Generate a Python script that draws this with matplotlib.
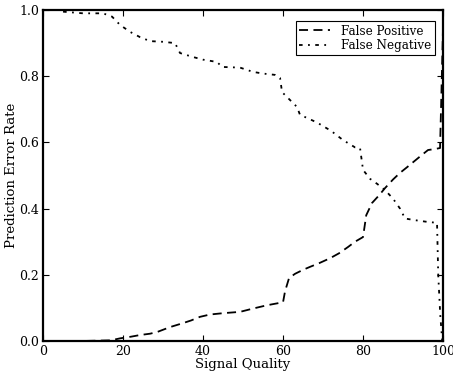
import matplotlib
matplotlib.use("Agg")
import matplotlib.pyplot as plt

# False Positive series (Signal Quality, error rate)
fp_x = [0, 10, 17, 19.25, 22, 24.25, 26.75, 28.5, 31.75, 35, 37, 39.25, 41.75, 45, 49.25,
        52.5, 56, 60, 60.5, 61.5, 63, 65, 66.75, 69, 71.75, 74, 76.25, 78, 80,
        80.8, 82.25, 84, 85.5, 87.5, 89.25, 91, 92.5, 94.5, 96.25, 98, 99.25, 99.6, 100]
fp_y = [0.0, 0.0, 0.002, 0.008, 0.013, 0.018, 0.022, 0.027, 0.042, 0.054, 0.062, 0.073, 0.08, 0.084, 0.088,
        0.098, 0.108, 0.117, 0.15, 0.19, 0.203, 0.215, 0.224, 0.235, 0.25, 0.265, 0.284, 0.3, 0.314,
        0.38, 0.417, 0.44, 0.462, 0.488, 0.508, 0.525, 0.54, 0.56, 0.577, 0.58, 0.583, 0.75, 0.95]

# False Negative series
fn_x = [5, 10, 15, 17.25, 19.25, 21.75, 24.25, 26.75, 30, 33, 34.25, 37.5, 40, 43.5, 44.75,
        49.25, 52.5, 55, 58, 59.25, 59.75, 61.75, 63.5, 64.25, 66, 68.5, 72, 75, 78, 79.25,
        80, 81.75, 83.5, 85.5, 87.5, 89.25, 90.5, 93, 96, 98.5, 98.8, 99.3, 99.8]
fn_y = [0.995, 0.99, 0.99, 0.98, 0.955, 0.934, 0.918, 0.906, 0.904, 0.90, 0.87, 0.858, 0.85, 0.843, 0.828,
        0.826, 0.813, 0.808, 0.804, 0.795, 0.752, 0.728, 0.707, 0.683, 0.674, 0.66, 0.635, 0.607, 0.585, 0.583,
        0.517, 0.49, 0.475, 0.456, 0.43, 0.40, 0.37, 0.365, 0.36, 0.357, 0.2, 0.08, 0.0]

x_ticks = [0, 20, 40, 60, 80, 100]
y_ticks = [0.0, 0.2, 0.4, 0.6, 0.8, 1.0]

plt.rcParams['font.family'] = ['DejaVu Serif']
plt.rcParams['font.size'] = 9

fig = plt.figure(figsize=(4.53, 3.75), dpi=100)
ax = fig.add_axes([0.095, 0.0907, 0.883, 0.8826])

ax.plot(fp_x, fp_y, color='black', linestyle='--', dashes=(5, 3), linewidth=1.3, label='False Positive')
ax.plot(fn_x, fn_y, color='black', linestyle='-.', dashes=(2, 3, 1, 3), linewidth=1.3, label='False Negative')

ax.set_xlim(0, 100)
ax.set_ylim(0, 1.0)
ax.set_xticks(x_ticks)
ax.set_yticks(y_ticks)
ax.set_xticklabels([str(t) for t in x_ticks])
ax.set_yticklabels([f"{t:.1f}" for t in y_ticks])
ax.tick_params(direction='in', top=True, right=True, length=4, width=0.8, pad=3, labelsize=9)
for s in ax.spines.values():
    s.set_linewidth(1.6)

ax.set_xlabel('Signal Quality', fontsize=9.5, labelpad=0)
ax.set_ylabel('Prediction Error Rate', fontsize=9.5, labelpad=1)

leg = ax.legend(loc='upper right', fontsize=8.6, fancybox=False, framealpha=1,
                edgecolor='black', handlelength=2.6, borderpad=0.3, labelspacing=0.1,
                handletextpad=0.9, bbox_to_anchor=(0.995, 0.985))
leg.get_frame().set_linewidth(0.8)

fig.savefig('out.png', dpi=100)
